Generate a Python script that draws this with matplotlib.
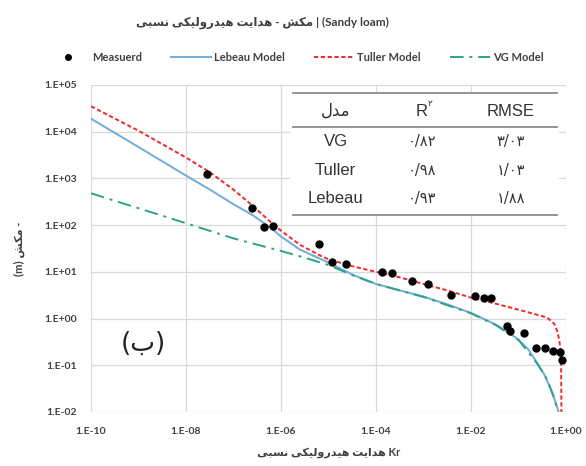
import matplotlib
matplotlib.use("Agg")
import matplotlib.pyplot as plt
from matplotlib.patches import Rectangle
from matplotlib.ticker import FixedLocator, FuncFormatter, NullLocator
import numpy as np

# ----------------------------------
# DATA
# ----------------------------------

meas_kr = [2.8e-8, 2.5e-7, 4.3e-7, 6.9e-7, 6.2e-6, 1.2e-5, 2.3e-5, 1.35e-4,
           2.2e-4, 5.8e-4, 1.26e-3, 3.8e-3, 1.23e-2, 1.9e-2, 2.6e-2, 5.8e-2,
           6.6e-2, 0.13, 0.23, 0.36, 0.54, 0.74, 0.83]
meas_h = [1260, 230, 93, 95, 40, 16, 15, 10, 9.5, 6.5, 5.4, 3.2, 3.1, 2.8,
          2.8, 0.68, 0.55, 0.48, 0.23, 0.24, 0.20, 0.19, 0.13]

tuller_kr = [1e-10, 1e-9, 1e-8, 3.2e-8, 1e-7, 2.5e-7, 6.3e-7, 1e-6, 2.5e-6,
             6.3e-6, 1e-5, 3.2e-5, 1e-4, 3.2e-4, 1e-3, 3.2e-3, 1e-2, 3.2e-2,
             0.1, 0.25, 0.4, 0.56, 0.65, 0.72, 0.77, 0.79, 0.80]
tuller_h = [3.5e4, 1.05e4, 2.8e3, 1350, 575, 263, 112, 76, 38, 23, 18.6,
            13.2, 10, 7.6, 5.5, 4.0, 2.8, 2.1, 1.55, 1.2, 1.05, 0.78, 0.55,
            0.35, 0.2, 0.08, 0.01]

lebeau_kr = [1e-10, 1e-9, 1e-8, 3.2e-8, 1e-7, 2.5e-7, 6.3e-7, 1e-6, 2.5e-6,
             1e-5, 3.2e-5, 1e-4, 3.2e-4, 1e-3, 3.2e-3, 1e-2, 3.2e-2, 6.3e-2,
             0.1, 0.16, 0.25, 0.35, 0.5, 0.63, 0.7]
lebeau_h = [1.9e4, 4.7e3, 1150, 575, 280, 165, 85, 57, 30, 15.8, 8.7, 5.5,
            4.0, 2.95, 2.0, 1.32, 0.76, 0.5, 0.35, 0.22, 0.11, 0.063, 0.028,
            0.014, 0.01]

vg_kr = [1e-10, 1e-9, 1e-8, 1e-7, 1e-6, 3.2e-6, 1e-5, 3.2e-5, 1e-4, 1e-3,
         1e-2, 3.2e-2, 0.1, 0.25, 0.4, 0.56, 0.66]
vg_h = [480, 230, 110, 52, 28, 20, 14, 8.5, 5.5, 2.9, 1.29, 0.74, 0.35,
        0.107, 0.05, 0.02, 0.011]

x_ticks = [1e-10, 1e-8, 1e-6, 1e-4, 1e-2, 1]
y_ticks = [1e-2, 1e-1, 1, 1e1, 1e2, 1e3, 1e4, 1e5]

table_models = ["VG", "Tuller", "Lebeau"]
table_r2 = ["۰/۸۲", "۰/۹۸", "۰/۹۳"]
table_rmse = ["۳/۰۳", "۱/۰۳", "۱/۸۸"]

# ----------------------------------
# PERSIAN TEXT (manual shaping, matplotlib has no bidi)
# ----------------------------------

FORMS = {
    "ا": ("\uFE8D", "\uFE8E", None, None),
    "ب": ("\uFE8F", "\uFE90", "\uFE91", "\uFE92"),
    "ت": ("\uFE95", "\uFE96", "\uFE97", "\uFE98"),
    "د": ("\uFEA9", "\uFEAA", None, None),
    "ر": ("\uFEAD", "\uFEAE", None, None),
    "س": ("\uFEB1", "\uFEB2", "\uFEB3", "\uFEB4"),
    "ش": ("\uFEB5", "\uFEB6", "\uFEB7", "\uFEB8"),
    "ل": ("\uFEDD", "\uFEDE", "\uFEDF", "\uFEE0"),
    "م": ("\uFEE1", "\uFEE2", "\uFEE3", "\uFEE4"),
    "ن": ("\uFEE5", "\uFEE6", "\uFEE7", "\uFEE8"),
    "ه": ("\uFEE9", "\uFEEA", "\uFEEB", "\uFEEC"),
    "و": ("\uFEED", "\uFEEE", None, None),
    "ک": ("\uFB8E", "\uFB8F", "\uFB90", "\uFB91"),
    "ی": ("\uFBFC", "\uFBFD", "\uFBFE", "\uFBFF"),
}


def fa(text):
    out = []
    for i, ch in enumerate(text):
        if ch not in FORMS:
            out.append(ch)
            continue
        iso, fin, ini, med = FORMS[ch]
        prev = text[i - 1] if i > 0 else ""
        nxt = text[i + 1] if i + 1 < len(text) else ""
        join_prev = prev in FORMS and FORMS[prev][2] is not None
        join_next = nxt in FORMS and ini is not None
        if join_prev and join_next:
            out.append(med)
        elif join_prev:
            out.append(fin)
        elif join_next:
            out.append(ini)
        else:
            out.append(iso)
    return "".join(reversed(out))


# ----------------------------------
# PLOT
# ----------------------------------

plt.rcParams["font.family"] = ["Lato", "DejaVu Sans"]
TXT = "#404040"
TAB = "#333333"

fig = plt.figure(figsize=(5.86, 4.66), dpi=100)
ax = fig.add_axes([0.1553, 0.1159, 0.8106, 0.7017])

ax.plot(lebeau_kr, lebeau_h, color="#7aaed6", lw=1.5, label="Lebeau Model",
        zorder=3)
ax.plot(tuller_kr, tuller_h, color="#ee2a2a", lw=1.4, ls=(0, (2.2, 1.3)),
        label="Tuller Model", zorder=4)
ax.plot(vg_kr, vg_h, color="#2fa386", lw=1.4, ls=(0, (7, 3, 1.5, 3)),
        label="VG Model", zorder=3)
ax.plot(meas_kr, meas_h, "o", color="black", ms=5, label="Measuerd",
        zorder=5)

ax.set_xscale("log")
ax.set_yscale("log")
ax.set_xlim(1e-10, 1)
ax.set_ylim(1e-2, 1e5)
ax.xaxis.set_major_locator(FixedLocator(x_ticks))
ax.yaxis.set_major_locator(FixedLocator(y_ticks))
ax.xaxis.set_minor_locator(NullLocator())
ax.yaxis.set_minor_locator(NullLocator())
fmt = FuncFormatter(lambda v, _: "1.E%+03d" % round(np.log10(v)))
ax.xaxis.set_major_formatter(fmt)
ax.yaxis.set_major_formatter(fmt)
ax.tick_params(length=0, labelsize=7.5, labelcolor=TXT)
ax.tick_params(axis="y", pad=10)
ax.tick_params(axis="x", pad=11)
for lab in ax.get_xticklabels() + ax.get_yticklabels():
    lab.set_fontweight("bold")

ax.grid(True, color="#d9d9d9", lw=0.9)
ax.set_axisbelow(True)
for s in ax.spines.values():
    s.set_visible(False)

ax.set_xlabel(fa("هدایت هیدرولیکی نسبی") + " Kr", fontsize=8, color=TXT,
              fontweight="bold", labelpad=8)
ax.set_ylabel("(m) " + fa("مکش") + " -", fontsize=8, color=TXT,
              fontweight="bold", labelpad=14)

ax.text(0.111, 0.21, "(ب)", transform=ax.transAxes, fontsize=19,
        ha="center", va="center", color="#222222",
        family=["DejaVu Sans"])

# statistics table
ax.add_patch(Rectangle((0.418, 0.600), 0.567, 0.378, transform=ax.transAxes,
                       facecolor="white", edgecolor="none", zorder=2))
for yl in (0.976, 0.872, 0.602):
    ax.plot([0.425, 0.98], [yl, yl], transform=ax.transAxes, color="#8c8c8c",
            lw=1.3, zorder=6)

col_x = [0.515, 0.697, 0.884]
row_y = [0.826, 0.740, 0.654]
ax.text(col_x[0], 0.922, fa("مدل"), transform=ax.transAxes, ha="center",
        va="center", fontsize=12, color=TAB, zorder=7,
        family=["DejaVu Sans"])
ax.text(col_x[1], 0.920, "R", transform=ax.transAxes, ha="center",
        va="center", fontsize=12, color=TAB, zorder=7,
        family=["Liberation Sans"])
ax.text(col_x[1] + 0.017, 0.942, "۲", transform=ax.transAxes, ha="center",
        va="center", fontsize=6.5, color=TAB, zorder=7,
        family=["DejaVu Sans"])
ax.text(col_x[2], 0.920, "RMSE", transform=ax.transAxes, ha="center",
        va="center", fontsize=12, color=TAB, zorder=7,
        family=["Liberation Sans"])
for name, r2, rmse, y in zip(table_models, table_r2, table_rmse, row_y):
    ax.text(col_x[0], y, name, transform=ax.transAxes, ha="center",
            va="center", fontsize=12, color=TAB, zorder=7,
            family=["Liberation Sans"])
    ax.text(col_x[1], y, r2, transform=ax.transAxes, ha="center",
            va="center", fontsize=10.5, color=TAB, zorder=7,
            family=["DejaVu Sans"])
    ax.text(col_x[2], y, rmse, transform=ax.transAxes, ha="center",
            va="center", fontsize=10.5, color=TAB, zorder=7,
            family=["DejaVu Sans"])

# legend and title
handles, labels = ax.get_legend_handles_labels()
order = [3, 0, 1, 2]
fig.legend([handles[i] for i in order], [labels[i] for i in order],
           loc="center", bbox_to_anchor=(0.505, 0.877), ncol=4,
           frameon=False, handlelength=3.6, columnspacing=2.6,
           handletextpad=0.3, markerscale=0.8,
           prop={"size": 8, "weight": "bold"}, labelcolor=TXT)

fig.text(0.447, 0.952, fa("مکش - هدایت هیدرولیکی نسبی") + " | (Sandy loam)",
         ha="center", va="center", fontsize=8.5, color=TXT,
         fontweight="bold")

fig.savefig("out.png", dpi=100)
